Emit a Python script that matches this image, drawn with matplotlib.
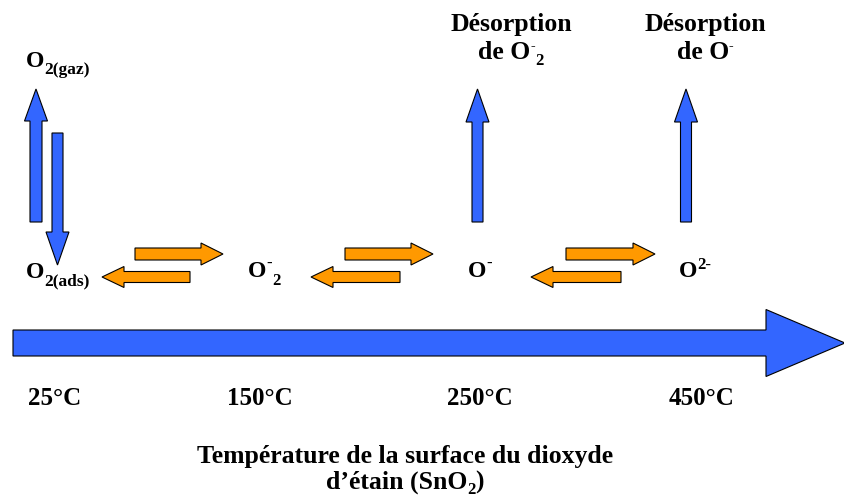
import matplotlib
matplotlib.use("Agg")
import matplotlib.pyplot as plt
from matplotlib.patches import FancyArrow

BLUE = "#3366FF"
ORANGE = "#FF9900"

# Schema en pixels (x vers la droite, y vers le bas)
temperatures = ["25°C", "150°C", "250°C", "450°C"]
temp_x = [55, 260, 480, 702]

# morceaux de texte : (texte, taille, decalage vertical en px)
especes = [
    [("O", 17, 0), ("2(gaz)", 12.5, 7)],
    [("O", 17, 0), ("2(ads)", 12.5, 7)],
    [("O", 17, 0), ("-", 12, -9), ("2", 12, 8)],
    [("O", 17, 0), ("-", 12, -9)],
    [("O", 17, 0), ("2-", 12, -8)],
]
especes_xy = [(26, 67), (26, 278), (248, 277), (468, 277), (679, 277)]

desorption_x = [511, 705]
desorption_lig2 = [
    [("de O", 18.5, 0), ("-", 10, -9), ("2", 12, 6)],
    [("de O", 18.5, 0), ("-", 10, -9)],
]

titre_lig1 = "Température de la surface du dioxyde"
titre_lig2 = [("d’étain (SnO", 18.5, 0), ("2", 12, 5), (")", 18.5, 0)]

# fleches : (x0, y0, dx, dy, largeur, largeur tete, longueur tete)
fleches_bleues = [
    (36, 222, 0, -133, 12, 23, 32),     # O2 ads -> gaz
    (57.5, 133, 0, 132, 11, 23, 33),    # O2 gaz -> ads
    (477.5, 222, 0, -133, 11, 23, 33),  # desorption O2-
    (686, 222, 0, -133, 11, 23, 33),    # desorption O-
    (13, 343, 832, 0, 26, 67, 79),      # axe temperature
]
fleches_orange = [
    (135, 254, 88, 0, 12, 22, 22),
    (190, 277, -88, 0, 11, 21, 22),
    (345, 254, 88, 0, 12, 22, 22),
    (400, 277, -89, 0, 11, 21, 22),
    (566, 254, 89, 0, 12, 22, 22),
    (621, 277, -90, 0, 11, 21, 22),
]

plt.rcParams['font.family'] = ['Liberation Serif', 'DejaVu Serif']
plt.rcParams['font.weight'] = 'bold'

fig = plt.figure(figsize=(8.45, 5.01), dpi=100)
ax = fig.add_axes([0, 0, 1, 1])
ax.set_xlim(0, 845)
ax.set_ylim(501, 0)
ax.axis('off')
renderer = fig.canvas.get_renderer()


def morceaux(x, y, pieces, centre=False):
    # ecrit une suite de morceaux (indices, exposants) sur la ligne de base y
    objs = []
    for txt, size, dy in pieces:
        t = ax.text(0, y + dy, txt, fontsize=size, fontweight='bold', ha='left', va='baseline')
        objs.append(t)
    widths = [t.get_window_extent(renderer).width for t in objs]
    if centre:
        x = x - sum(widths) / 2
    for t, w in zip(objs, widths):
        t.set_x(x)
        x += w


for (x0, y0, dx, dy, w, hw, hl) in fleches_bleues:
    ax.add_patch(FancyArrow(x0, y0, dx, dy, width=w, head_width=hw, head_length=hl,
                            length_includes_head=True, fc=BLUE, ec='black', lw=0.8))
for (x0, y0, dx, dy, w, hw, hl) in fleches_orange:
    ax.add_patch(FancyArrow(x0, y0, dx, dy, width=w, head_width=hw, head_length=hl,
                            length_includes_head=True, fc=ORANGE, ec='black', lw=0.8))

for pieces, (x, y) in zip(especes, especes_xy):
    morceaux(x, y, pieces)

for pieces, x in zip(desorption_lig2, desorption_x):
    ax.text(x, 31, "Désorption", fontsize=18.5, fontweight='bold', ha='center', va='baseline')
    morceaux(x, 59, pieces, centre=True)

for label, x in zip(temperatures, temp_x):
    ax.text(x, 405, label, fontsize=18, fontweight='bold', ha='center', va='baseline')

ax.text(405, 463, titre_lig1, fontsize=18.5, fontweight='bold', ha='center', va='baseline')
morceaux(405, 489, titre_lig2, centre=True)

fig.savefig("out.png", dpi=100)
